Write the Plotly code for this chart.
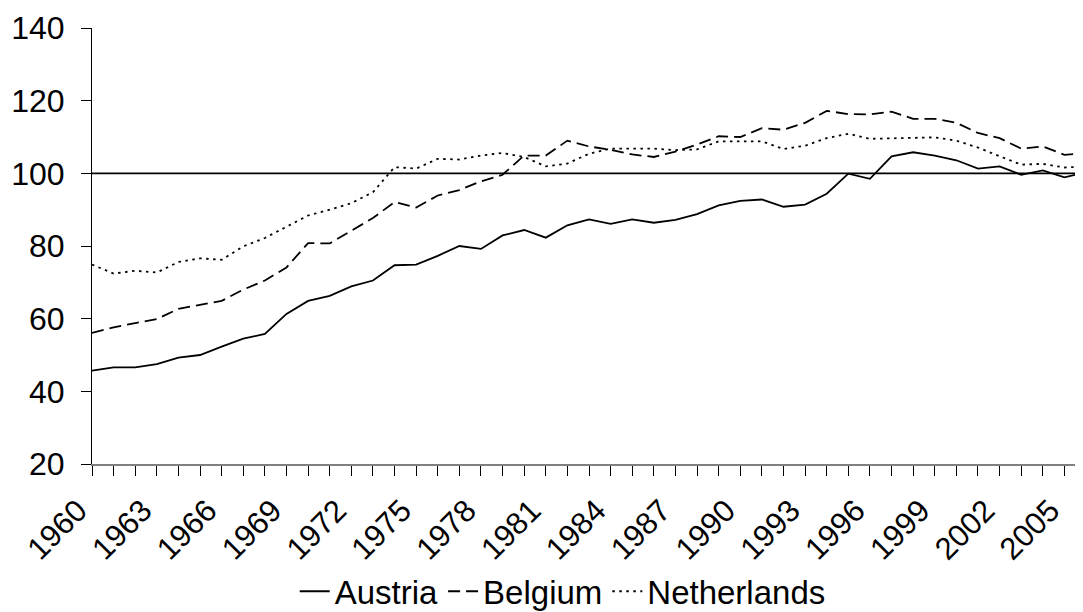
import plotly.graph_objects as go

YEARS = list(range(1960, 2007))
AUSTRIA = [45.7, 46.6, 46.6, 47.5, 49.3, 50.0, 52.3, 54.5, 55.8, 61.3,
           64.9, 66.3, 68.9, 70.5, 74.7, 74.9, 77.3, 80.0, 79.2, 82.9,
           84.4, 82.3, 85.7, 87.3, 86.1, 87.3, 86.4, 87.2, 88.8, 91.2,
           92.4, 92.8, 90.8, 91.4, 94.4, 99.9, 98.5, 104.7, 105.8, 104.9,
           103.6, 101.3, 101.9, 99.6, 100.8, 98.9, 100.3]
BELGIUM = [56.1, 57.6, 58.8, 59.9, 62.7, 63.8, 64.9, 68.0, 70.5, 74.1,
           80.8, 80.7, 84.3, 87.7, 92.1, 90.6, 93.9, 95.4, 97.8, 99.6,
           104.9, 104.9, 109.0, 107.4, 106.5, 105.2, 104.5, 106.0, 107.9, 110.2,
           110.0, 112.4, 112.0, 113.9, 117.2, 116.3, 116.2, 117.0, 115.0, 115.0,
           113.9, 111.1, 109.7, 106.8, 107.4, 105.1, 105.5]
NETHERLANDS = [74.9, 72.4, 73.2, 72.7, 75.6, 76.6, 76.2, 79.9, 82.2, 85.4,
               88.4, 90.0, 91.8, 94.8, 101.7, 101.3, 104.0, 103.8, 104.9, 105.6,
               104.5, 101.9, 102.7, 105.4, 106.8, 106.8, 106.8, 106.4, 106.6, 108.8,
               108.8, 108.8, 106.7, 107.6, 109.7, 110.9, 109.5, 109.7, 109.9, 109.9,
               109.0, 107.1, 104.7, 102.4, 102.6, 101.6, 101.9]

TICK_YEARS = list(range(1960, 2006, 3))
TICK_LABELS = [str(y) for y in TICK_YEARS]
Y_TICKS = [20, 40, 60, 80, 100, 120, 140]
Y_RANGE = [20, 140]
X_RANGE = [1960, 2005.86]
REFERENCE_LEVEL = 100

FONT = "Liberation Sans, Arial, sans-serif"

fig = go.Figure()
series = [
    ("Austria", AUSTRIA, "solid"),
    ("Belgium", BELGIUM, "12px,6px"),
    ("Netherlands", NETHERLANDS, "2.5px,4.5px"),
]
for name, vals, dash in series:
    fig.add_trace(go.Scatter(
        x=YEARS, y=vals, name=name, mode="lines",
        line=dict(color="black", width=1.8, dash=dash),
    ))

fig.add_hline(y=REFERENCE_LEVEL, line=dict(color="black", width=1.8))

# page body has an 8px margin, so the figure is 8px smaller than the window
fig.update_layout(
    width=1075, height=604,
    margin=dict(l=84, r=0, t=20, b=148, autoexpand=False),
    paper_bgcolor="white", plot_bgcolor="white",
    font=dict(family=FONT, color="black", size=32),
    showlegend=True,
    legend=dict(
        orientation="h", x=0.475, xanchor="center", y=-0.292, yanchor="middle",
        font=dict(size=33, family=FONT, color="black"),
        itemwidth=30, tracegroupgap=0, bgcolor="rgba(0,0,0,0)",
    ),
)
fig.update_xaxes(
    range=X_RANGE, showgrid=False, zeroline=False, automargin=False,
    showline=True, linecolor="#808080", linewidth=2,
    tickmode="array", tickvals=TICK_YEARS, ticktext=TICK_LABELS,
    ticks="outside", ticklen=10, tickwidth=1, tickcolor="black",
    tickangle=-45, tickfont=dict(size=31, family=FONT, color="black"),
    ticklabelstandoff=4, ticklabelshift=-14,
    minor=dict(tickmode="linear", tick0=1960, dtick=1, ticks="outside",
               ticklen=10, tickwidth=1, tickcolor="black", showgrid=False),
)
fig.update_yaxes(
    range=Y_RANGE, showgrid=False, zeroline=False, automargin=False,
    showline=True, linecolor="black", linewidth=1,
    tickmode="array", tickvals=Y_TICKS,
    ticks="outside", ticklen=10, tickwidth=1, tickcolor="black",
    tickfont=dict(size=32, family=FONT, color="black"),
    ticklabelstandoff=10,
)

fig.write_html("out.html")
